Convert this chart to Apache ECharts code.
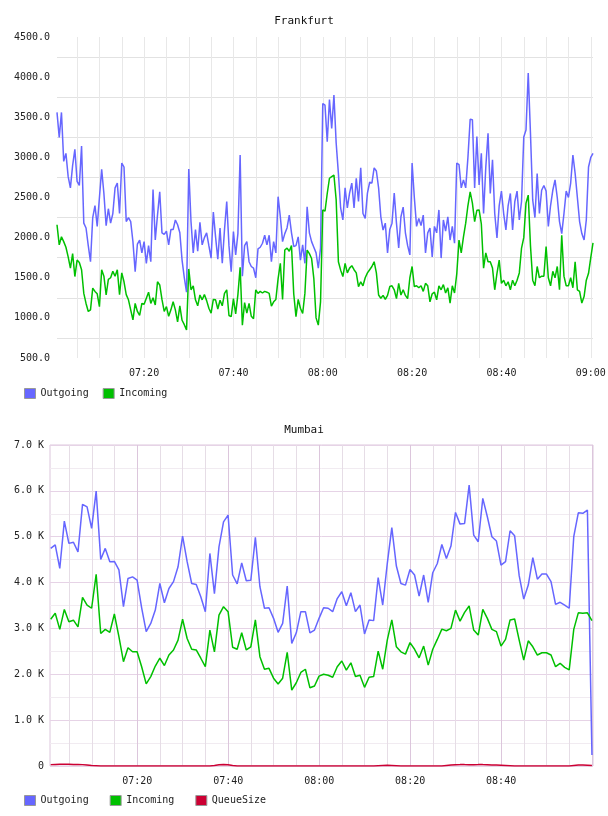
<!DOCTYPE html>
<html>
<head>
<meta charset="utf-8">
<script src="https://cdn.jsdelivr.net/npm/echarts@6/dist/echarts.min.js"></script>
<style>
html, body { margin: 0; padding: 0; background: #fff; }
#main { width: 608px; height: 816px; }
</style>
</head>
<body>
<div id="main"></div>
<script>
// Frankfurt: one sample every 30 s, starting 07:00:30 (minutes after 07:00)
const fraStart = 0.5
const fraStep = 0.5
const fraOutgoing = [
  3560, 3250, 3560, 2950, 3050, 2760, 2620, 2900, 3100, 2700,
  2650, 3140, 2180, 2120, 1900, 1700, 2250, 2400, 2140, 2500,
  2850, 2550, 2150, 2360, 2180, 2300, 2620, 2680, 2300, 2930,
  2880, 2200, 2250, 2200, 1950, 1575, 1920, 1970, 1810, 1950,
  1680, 1900, 1700, 2600, 1970, 2280, 2570, 2060, 2040, 2080,
  1910, 2100, 2100, 2220, 2160, 2060, 1720, 1500, 1320, 2855,
  2200, 1810, 2100, 1830, 2190, 1910, 2000, 2060, 1900, 1745,
  2320, 2010, 1730, 2120, 1680, 2100, 2450, 1900, 1575, 2075,
  1785, 2050, 3030, 1520, 1900, 1950, 1700, 1640, 1620, 1500,
  1860, 1880, 1930, 2030, 1910, 2030, 1700, 1950, 1810, 2510,
  2260, 1950, 2050, 2120, 2280, 2060, 1890, 1900, 2010, 1720,
  1910, 1680, 2385, 2060, 1950, 1880, 1810, 1620, 1870, 3670,
  3650, 3195, 3720, 3360, 3777, 3180, 2800, 2370, 2220, 2620,
  2370, 2555, 2680, 2370, 2740, 2450, 2870, 2300, 2240, 2555,
  2690, 2680, 2870, 2830, 2620, 2260, 2095, 2180, 1810, 2100,
  2180, 2555, 2180, 1870, 2260, 2380, 2060, 1900, 1785, 2930,
  2500, 2140, 2240, 2150, 2280, 1810, 2060, 2120, 1760, 2140,
  2060, 2345, 1745, 2220, 2080, 2260, 1970, 2140, 1930, 2930,
  2910, 2620, 2720, 2620, 3000, 3475, 3470, 2620, 3260, 2655,
  3050, 2300, 2880, 3300, 2550, 2970, 2300, 1995, 2400, 2580,
  2300, 2095, 2400, 2550, 2095, 2450, 2580, 2220, 2450, 3255,
  3340, 4050, 3300, 2470, 2250, 2800, 2300, 2590, 2650, 2580,
  2140, 2400, 2590, 2720, 2500, 2200, 2050, 2300, 2580, 2500,
  2680, 3030, 2800, 2500, 2200, 2050, 1970, 2220, 2880, 3000, 3050
]
const fraIncoming = [
  2160, 1910, 2010, 1950, 1880, 1760, 1620, 1800, 1515, 1720,
  1690, 1600, 1305, 1180, 1080, 1100, 1370, 1330, 1300, 1140,
  1600, 1520, 1285, 1480, 1500, 1580, 1520, 1600, 1290, 1560,
  1450, 1290, 1225, 1100, 975, 1180, 1080, 1030, 1180, 1170,
  1245, 1320, 1180, 1250, 1160, 1450, 1410, 1230, 1080, 1140,
  1020, 1100, 1200, 1100, 950, 1150, 970, 915, 850, 1610,
  1350, 1400, 1225, 1150, 1285, 1225, 1290, 1215, 1120, 1060,
  1230, 1225, 1110, 1220, 1150, 1305, 1350, 1030, 1015, 1240,
  1050, 1290, 1630, 910, 1190, 1060, 1180, 1020, 990, 1350,
  1305, 1330, 1310, 1330, 1320, 1305, 1145, 1200, 1230, 1490,
  1680, 1230, 1845, 1870, 1830, 1900, 1300, 1015, 1230, 1120,
  1055, 1305, 1845, 1800, 1740, 1490, 1000, 910, 1200, 2345,
  2330, 2550, 2740, 2760, 2780, 2470, 1700, 1595, 1515, 1680,
  1560, 1620, 1650, 1600, 1560, 1390, 1450, 1400, 1500, 1560,
  1600, 1640, 1700, 1560, 1285, 1245, 1280, 1230, 1280, 1390,
  1400, 1350, 1240, 1430, 1285, 1350, 1280, 1240, 1500, 1640,
  1390, 1400, 1375, 1400, 1330, 1430, 1400, 1200, 1300, 1320,
  1225, 1400, 1350, 1415, 1310, 1375, 1185, 1400, 1310, 1550,
  1970, 1810, 2010, 2180, 2400, 2570, 2430, 2200, 2340, 2345,
  2170, 1620, 1810, 1700, 1700, 1620, 1350, 1555, 1720, 1430,
  1470, 1400, 1450, 1350, 1470, 1400, 1470, 1560, 1870, 2000,
  2430, 2530, 1900, 1470, 1400, 1640, 1500, 1520, 1520, 1890,
  1500, 1400, 1580, 1500, 1640, 1350, 2030, 1520, 1400, 1400,
  1500, 1375, 1700, 1350, 1330, 1185, 1265, 1470, 1555, 1750, 1935
]

// Mumbai: one sample per minute, starting 07:00:58
const mumStart = 0.97
const mumStep = 1
const mumOutgoing = [
  4745, 4820, 4310, 5340, 4855, 4880, 4670, 5705, 5650, 5180,
  5995, 4505, 4745, 4455, 4460, 4275, 3475, 4090, 4125, 4055,
  3450, 2930, 3110, 3400, 3980, 3560, 3870, 4020, 4345, 5015,
  4455, 3980, 3960, 3690, 3365, 4635, 3760, 4780, 5325, 5470,
  4165, 3970, 4430, 4040, 4050, 4985, 3910, 3440, 3450, 3220,
  2915, 3110, 3925, 2675, 2905, 3365, 3365, 2905, 2965, 3220,
  3450, 3440, 3365, 3650, 3800, 3495, 3780, 3365, 3510, 2880,
  3185, 3170, 4110, 3510, 4415, 5200, 4360, 3980, 3945, 4285,
  4165, 3705, 4165, 3570, 4215, 4415, 4830, 4525, 4795, 5530,
  5275, 5290, 6125, 5035, 4890, 5835, 5435, 5000, 4905, 4380,
  4455, 5130, 5020, 4150, 3640, 3945, 4545, 4075, 4185, 4185,
  4020, 3525, 3570, 3510, 3440, 5000, 5520, 5510, 5580, 240
]
const mumIncoming = [
  3200, 3330, 2980, 3415, 3145, 3180, 3035, 3675, 3510, 3440,
  4180, 2890, 2980, 2915, 3315, 2820, 2275, 2580, 2490, 2490,
  2165, 1790, 1950, 2180, 2350, 2190, 2420, 2530, 2745, 3200,
  2780, 2545, 2530, 2350, 2165, 2965, 2490, 3290, 3475, 3365,
  2590, 2545, 2905, 2530, 2600, 3185, 2385, 2110, 2130, 1915,
  1790, 1915, 2480, 1655, 1815, 2040, 2110, 1705, 1745, 1960,
  2000, 1980, 1935, 2165, 2290, 2090, 2250, 1950, 1980, 1715,
  1935, 1950, 2505, 2110, 2745, 3185, 2600, 2490, 2440, 2690,
  2545, 2360, 2615, 2200, 2545, 2760, 2985, 2950, 3000, 3400,
  3160, 3350, 3490, 2965, 2855, 3415, 3220, 2980, 2930, 2615,
  2760, 3185, 3205, 2745, 2310, 2730, 2600, 2420, 2470, 2470,
  2420, 2165, 2240, 2150, 2095, 2980, 3340, 3330, 3340, 3170
]
const mumQueue = [
  30, 35, 40, 40, 40, 35, 35, 30, 20, 10,
  5, 0, 0, 0, 0, 0, 0, 0, 0, 0,
  0, 0, 0, 0, 0, 0, 0, 0, 0, 0,
  0, 0, 0, 0, 0, 0, 10, 25, 35, 25,
  10, 0, 0, 0, 0, 0, 0, 0, 0, 0,
  0, 0, 0, 0, 0, 0, 0, 0, 0, 0,
  0, 0, 0, 0, 0, 0, 0, 0, 0, 0,
  0, 0, 5, 10, 15, 10, 5, 0, 0, 0,
  0, 0, 0, 0, 0, 0, 0, 10, 20, 25,
  30, 30, 25, 25, 30, 30, 25, 20, 20, 15,
  10, 5, 0, 0, 0, 0, 0, 0, 0, 0,
  0, 0, 0, 0, 0, 10, 20, 20, 15, 10
]

const fraLegend = ['Outgoing', 'Incoming']
const mumLegend = ['Outgoing', 'Incoming', 'QueueSize']

const BLUE = '#6666ff'
const GREEN = '#00c000'
const RED = '#cc0033'
const FONT = 'DejaVu Sans Mono'

const pair = (arr, start, step) => arr.map((v, i) => [start + i * step, v])
const pad = n => (n < 10 ? '0' : '') + n
// only every 20 minutes gets a label
const timeLabel = v => {
    if (Math.abs(v % 20) > 1e-6) return ''
    return pad(7 + Math.floor(v / 60)) + ':' + pad(Math.round(v % 60))
}
// the Mumbai axis stops labelling at 08:40
const timeLabelMum = v => v > 110 ? '' : timeLabel(v)
const txt = { fontFamily: FONT, fontSize: 10, color: '#222' }

const mychart = echarts.init(document.getElementById('main'))

const line = (name, color, data, idx) => ({
    name: name,
    type: 'line',
    xAxisIndex: idx === 0 ? 0 : 1,
    yAxisIndex: idx,
    data: data,
    symbol: 'none',
    showSymbol: false,
    lineStyle: { width: 1.5, color: color },
    itemStyle: { color: color },
    emphasis: { disabled: true }
})

const option = {
    animation: false,
    backgroundColor: '#fff',
    title: [
        { text: 'Frankfurt', left: 'center', top: 16, padding: 0,
          textStyle: { fontFamily: FONT, fontSize: 11, fontWeight: 'normal', color: '#111' } },
        { text: 'Mumbai', left: 'center', top: 425, padding: 0,
          textStyle: { fontFamily: FONT, fontSize: 11, fontWeight: 'normal', color: '#111' } }
    ],
    legend: [
        { data: fraLegend, left: 24, top: 388, padding: 0, icon: 'rect',
          itemWidth: 11, itemHeight: 10, itemGap: 14, textStyle: txt,
          itemStyle: { borderColor: '#999', borderWidth: 1 } },
        { data: mumLegend, left: 24, top: 795, padding: 0, icon: 'rect',
          itemWidth: 11, itemHeight: 10, itemGap: 21, textStyle: txt,
          itemStyle: { borderColor: '#999', borderWidth: 1 } }
    ],
    grid: [
        { left: 57, right: 15, top: 37, height: 321, outerBoundsMode: 'none' },
        { left: 50, right: 15, top: 445, height: 321, outerBoundsMode: 'none',
          show: true, borderColor: '#dcc6dc', borderWidth: 1 }
    ],
    xAxis: [
        {
            gridIndex: 0, type: 'value', min: 0.5, max: 120.5,
            splitNumber: 24, minInterval: 5, maxInterval: 5,
            axisLine: { show: false }, axisTick: { show: false },
            axisLabel: Object.assign({ formatter: timeLabel, margin: 10 }, txt),
            splitLine: { show: true, showMinLine: false, showMaxLine: false,
                         lineStyle: { color: '#e8e8e8', width: 1 } }
        },
        {
            gridIndex: 1, type: 'value', min: 0.82, max: 120.2, position: 'bottom',
            splitNumber: 24, minInterval: 5, maxInterval: 5,
            axisLine: { show: false }, axisTick: { show: false },
            axisLabel: Object.assign({ formatter: timeLabelMum, margin: 10 }, txt),
            splitLine: { show: true, showMinLine: false, showMaxLine: false,
                         lineStyle: { color: '#e6dde6', width: 1 } }
        },
        {
            gridIndex: 1, type: 'value', min: 0.82, max: 120.2, position: 'top',
            splitNumber: 6, minInterval: 20, maxInterval: 20,
            axisLine: { show: false }, axisTick: { show: false },
            axisLabel: { show: false },
            splitLine: { show: true, showMinLine: false, showMaxLine: false,
                         lineStyle: { color: '#dcc6dc', width: 1 } }
        }
    ],
    yAxis: [
        {
            gridIndex: 0, type: 'value', min: 500, max: 4500, interval: 500,
            axisLine: { show: false }, axisTick: { show: false },
            axisLabel: Object.assign({ formatter: v => v.toFixed(1), margin: 7 }, txt),
            splitLine: { show: false },
            minorTick: { show: false, splitNumber: 2 },
            minorSplitLine: { show: true, lineStyle: { color: '#e2e2e2', width: 1 } }
        },
        {
            gridIndex: 1, type: 'value', min: 0, max: 7000, interval: 1000,
            axisLine: { show: false }, axisTick: { show: false },
            axisLabel: Object.assign({
                formatter: v => v === 0 ? '0' : (v / 1000).toFixed(1) + ' K', margin: 6 }, txt),
            splitLine: { show: true, lineStyle: { color: '#e6d3e6', width: 1 } },
            minorTick: { show: false, splitNumber: 2 },
            minorSplitLine: { show: true, lineStyle: { color: '#f1ebf1', width: 1 } }
        }
    ],
    series: [
        line('Outgoing', BLUE, pair(fraOutgoing, fraStart, fraStep), 0),
        line('Incoming', GREEN, pair(fraIncoming, fraStart, fraStep), 0),
        line('Outgoing', BLUE, pair(mumOutgoing, mumStart, mumStep), 1),
        line('Incoming', GREEN, pair(mumIncoming, mumStart, mumStep), 1),
        line('QueueSize', RED, pair(mumQueue, mumStart, mumStep), 1)
    ]
}

mychart.setOption(option)
</script>
</body>
</html>
